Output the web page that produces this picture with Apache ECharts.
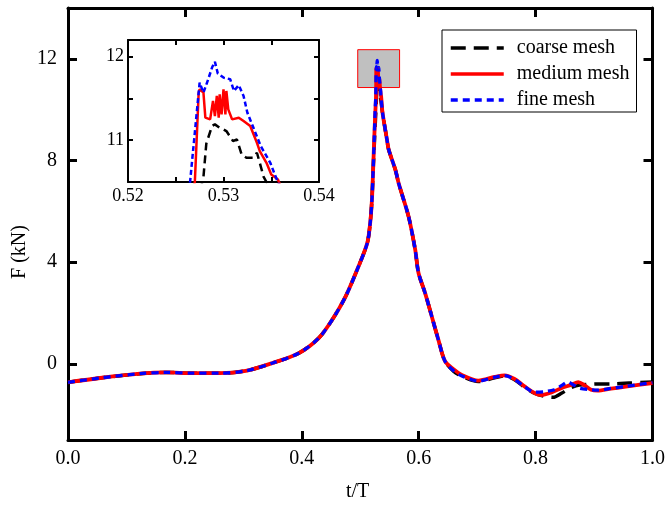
<!DOCTYPE html>
<html>
<head>
<meta charset="utf-8">
<script src="https://cdn.jsdelivr.net/npm/echarts@6/dist/echarts.min.js"></script>
<style>
html,body{margin:0;padding:0;background:#fff;}
#chart{width:668px;height:509px;}
</style>
</head>
<body>
<div id="chart"></div>
<script>
// ---- data (t/T, F in kN) ----
var seriesNames = ['coarse mesh', 'medium mesh', 'fine mesh'];
var xTicks = [0, 0.2, 0.4, 0.6, 0.8, 1.0];
var yTicks = [0, 4, 8, 12];
var insetXTicks = [0.52, 0.53, 0.54];
var insetYTicks = [11, 12];
var insetMinorX = [0.525, 0.535];
var insetMinorY = [11.5];
var zoomBox = [[0.4957, 10.87], [0.5673, 12.36]];

var baseRise = [[0,-0.73],[0.055,-0.56],[0.123,-0.39],[0.168,-0.34],[0.214,-0.37],[0.259,-0.37],[0.304,-0.28],[0.35,0.03],[0.395,0.42],[0.429,1.01],[0.452,1.73],[0.475,2.65],[0.497,3.83],[0.512,4.75],[0.517,5.54],[0.52,6.46],[0.522,7.6]];

var coarsePeak = [[0.524,8.6],[0.526,9.6],[0.5279,10.56],[0.5282,10.96],[0.5288,11.17],[0.5291,11.19],[0.5296,11.15],[0.5300,11.13],[0.5303,11.11],[0.5310,10.99],[0.5314,11.01],[0.5319,10.83],[0.5324,10.79],[0.5331,10.79],[0.5335,10.85],[0.5338,10.73],[0.5342,10.56],[0.5345,10.5]];
var mediumPeak = [[0.524,8.9],[0.526,10.0],[0.5270,10.5],[0.5274,11.57],[0.5275,11.61],[0.5279,11.57],[0.5281,11.27],[0.5286,11.25],[0.5289,11.47],[0.5291,11.29],[0.5293,11.53],[0.5295,11.27],[0.5296,11.55],[0.5298,11.31],[0.5300,11.61],[0.5302,11.31],[0.5303,11.59],[0.5305,11.37],[0.5309,11.25],[0.5316,11.27],[0.5321,11.23],[0.5328,11.17],[0.5335,10.97],[0.5338,10.87],[0.5345,10.73],[0.5350,10.59],[0.5357,10.53]];
var finePeak = [[0.524,8.9],[0.5255,10.0],[0.5265,10.5],[0.5275,11.69],[0.5279,11.57],[0.5284,11.73],[0.5288,11.87],[0.5291,11.94],[0.5294,11.8],[0.5300,11.75],[0.5307,11.73],[0.5311,11.59],[0.5316,11.66],[0.5321,11.53],[0.5325,11.33],[0.5332,11.13],[0.5339,10.93],[0.5349,10.73],[0.5354,10.58],[0.5357,10.5]];

var descent = [[0.538,9.9],[0.5457,8.82],[0.5486,8.43],[0.56,7.64],[0.5656,7.11],[0.5826,5.8],[0.594,4.49],[0.5997,3.57],[0.611,2.78],[0.6224,1.86],[0.6337,0.94],[0.645,0.1]];

var coarseTail = [[0.66,-0.3],[0.673,-0.48],[0.702,-0.7],[0.73,-0.55],[0.747,-0.48],[0.764,-0.63],[0.781,-0.92],[0.8,-1.18],[0.815,-1.28],[0.83,-1.32],[0.845,-1.15],[0.86,-0.95],[0.875,-0.84],[0.9,-0.8],[0.93,-0.79],[0.96,-0.76],[1.0,-0.72]];
var mediumTail = [[0.66,-0.22],[0.673,-0.43],[0.702,-0.66],[0.73,-0.52],[0.747,-0.46],[0.764,-0.6],[0.781,-0.89],[0.798,-1.15],[0.81,-1.23],[0.827,-1.13],[0.844,-0.96],[0.861,-0.83],[0.873,-0.72],[0.884,-0.85],[0.895,-1.02],[0.906,-1.06],[0.929,-0.98],[0.957,-0.89],[1.0,-0.76]];
var fineTail = [[0.66,-0.28],[0.673,-0.47],[0.702,-0.68],[0.73,-0.53],[0.747,-0.47],[0.764,-0.62],[0.781,-0.9],[0.798,-1.12],[0.815,-1.1],[0.832,-1.02],[0.845,-0.85],[0.855,-0.72],[0.866,-0.85],[0.876,-0.97],[0.895,-1.02],[0.906,-1.04],[0.929,-0.97],[0.957,-0.88],[1.0,-0.74]];

var coarseData = baseRise.concat(coarsePeak, descent, coarseTail);
var mediumData = baseRise.concat(mediumPeak, descent, mediumTail);
var fineData = baseRise.concat(finePeak, descent, fineTail);

// ---- chart ----
var FONT = 'Liberation Serif';
var chart = echarts.init(document.getElementById('chart'), null, {renderer: 'canvas'});

var styles = [
  {color: '#000000', type: [15, 8], width: 3.5},
  {color: '#ff0000', type: 'solid', width: 3.8},
  {color: '#0000ff', type: [7, 5], width: 3.3}
];
var datas = [coarseData, mediumData, fineData];

function axisLineStyle(w) { return {show: true, onZero: false, lineStyle: {color: '#000', width: w}}; }

var series = [{
  type: 'line', name: '__box', data: [], xAxisIndex: 0, yAxisIndex: 0, z: 1, silent: true,
  markArea: {
    silent: true,
    itemStyle: {color: '#c0c0c0', borderColor: '#ff0000', borderWidth: 1},
    data: [[{coord: zoomBox[0]}, {coord: zoomBox[1]}]]
  }
}];
for (var i = 0; i < 3; i++) {
  series.push({
    type: 'line', name: seriesNames[i], data: datas[i], xAxisIndex: 0, yAxisIndex: 0,
    showSymbol: false, symbol: 'none', z: 3 + i, smooth: 0.3,
    lineStyle: {color: styles[i].color, width: styles[i].width, type: styles[i].type},
    itemStyle: {color: styles[i].color}
  });
}
var insetTypes = [[8, 5], 'solid', [5, 3]];
for (var j = 0; j < 3; j++) {
  series.push({
    type: 'line', name: seriesNames[j], data: datas[j], xAxisIndex: 1, yAxisIndex: 1,
    showSymbol: false, symbol: 'none', z: 3 + j, clip: true,
    lineStyle: {color: styles[j].color, width: 2.5, type: insetTypes[j]},
    itemStyle: {color: styles[j].color}
  });
}

var legendData = seriesNames.map(function (n, k) {
  return {name: n, lineStyle: {width: 3.5, color: styles[k].color, type: styles[k].type}};
});

var option = {
  animation: false,
  backgroundColor: '#fff',
  grid: [
    {left: 68, right: 13, top: 8, bottom: 69, show: false},
    {left: 128, top: 40, width: 191, height: 142, show: true, backgroundColor: '#fff', borderWidth: 0}
  ],
  legend: {
    show: true, orient: 'vertical', left: 442, top: 30,
    padding: [8, 7, 2, 7], itemGap: 6, itemWidth: 53, itemHeight: 10,
    borderColor: '#000', borderWidth: 1, backgroundColor: '#fff',
    itemStyle: {opacity: 0},
    textStyle: {fontFamily: FONT, fontSize: 20, color: '#000', padding: [0, 0, 0, 8]},
    data: legendData
  },
  xAxis: [
    {type: 'value', gridIndex: 0, min: 0, max: 1, interval: 0.2, position: 'bottom',
     axisLine: axisLineStyle(3), splitLine: {show: false},
     axisTick: {inside: true, length: 9, lineStyle: {width: 3, color: '#000'}},
     axisLabel: {fontFamily: FONT, fontSize: 20, color: '#000', margin: 9,
                 formatter: function (v) { return v.toFixed(1); }}},
    {type: 'value', gridIndex: 1, min: 0.52, max: 0.54, position: 'bottom',
     axisLine: axisLineStyle(2), splitLine: {show: false},
     axisTick: {inside: true, length: 5, lineStyle: {width: 2, color: '#000'},
                customValues: insetXTicks.concat(insetMinorX)},
     axisLabel: {fontFamily: FONT, fontSize: 18, color: '#000', margin: 5,
                 customValues: insetXTicks, formatter: function (v) { return v.toFixed(2); }}},
    {type: 'value', gridIndex: 0, min: 0, max: 1, interval: 0.2, position: 'top',
     axisLine: axisLineStyle(3), splitLine: {show: false},
     axisTick: {inside: true, length: 9, lineStyle: {width: 3, color: '#000'}},
     axisLabel: {show: false}},
    {type: 'value', gridIndex: 1, min: 0.52, max: 0.54, position: 'top',
     axisLine: axisLineStyle(2), splitLine: {show: false},
     axisTick: {inside: true, length: 5, lineStyle: {width: 2, color: '#000'},
                customValues: insetXTicks.concat(insetMinorX)},
     axisLabel: {show: false}}
  ],
  yAxis: [
    {type: 'value', gridIndex: 0, min: -3, max: 14, position: 'left',
     axisLine: axisLineStyle(3), splitLine: {show: false},
     axisTick: {inside: true, length: 9, lineStyle: {width: 3, color: '#000'}, customValues: yTicks},
     axisLabel: {fontFamily: FONT, fontSize: 20, color: '#000', margin: 11, customValues: yTicks}},
    {type: 'value', gridIndex: 1, min: 10.5, max: 12.2, position: 'left',
     axisLine: axisLineStyle(2), splitLine: {show: false},
     axisTick: {inside: true, length: 5, lineStyle: {width: 2, color: '#000'},
                customValues: insetYTicks.concat(insetMinorY)},
     axisLabel: {fontFamily: FONT, fontSize: 18, color: '#000', margin: 4, customValues: insetYTicks}},
    {type: 'value', gridIndex: 0, min: -3, max: 14, position: 'right',
     axisLine: axisLineStyle(3), splitLine: {show: false},
     axisTick: {inside: true, length: 9, lineStyle: {width: 3, color: '#000'}, customValues: yTicks},
     axisLabel: {show: false}},
    {type: 'value', gridIndex: 1, min: 10.5, max: 12.2, position: 'right',
     axisLine: axisLineStyle(2), splitLine: {show: false},
     axisTick: {inside: true, length: 5, lineStyle: {width: 2, color: '#000'},
                customValues: insetYTicks.concat(insetMinorY)},
     axisLabel: {show: false}}
  ],
  graphic: [
    {type: 'text', left: 346, top: 482, style: {text: 't/T', font: '20px "Liberation Serif"', fill: '#000'}},
    {type: 'text', x: 20, y: 252, rotation: Math.PI / 2,
     style: {text: 'F (kN)', font: '20px "Liberation Serif"', fill: '#000', align: 'center', verticalAlign: 'middle'}}
  ],
  series: series
};
chart.setOption(option);
</script>
</body>
</html>
